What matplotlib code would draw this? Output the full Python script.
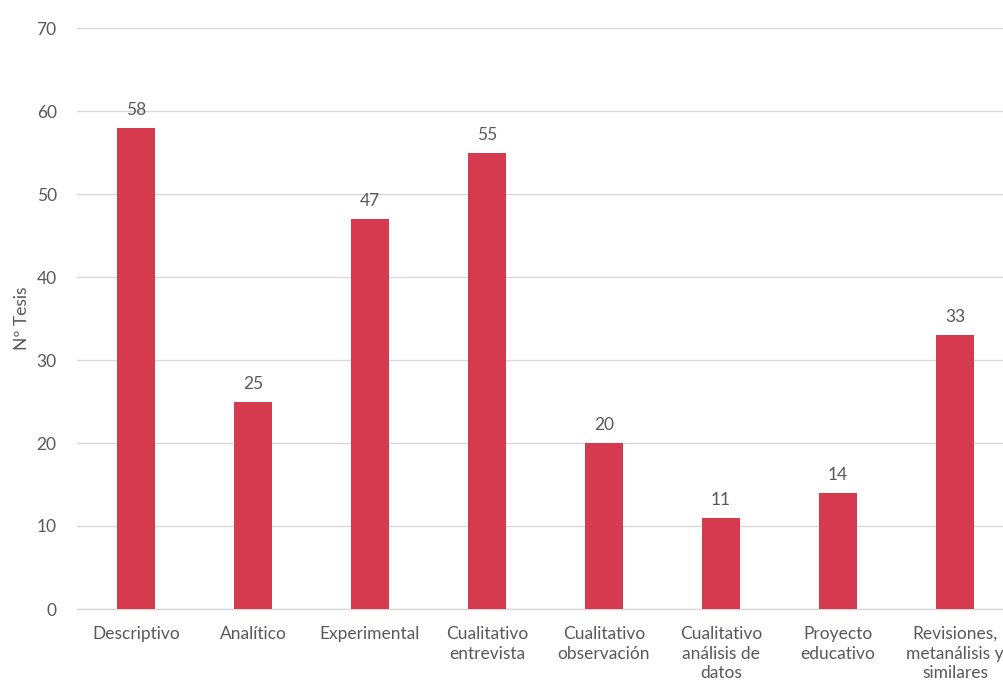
import matplotlib
matplotlib.use("Agg")
import matplotlib.pyplot as plt

categories = [
    "Descriptivo",
    "Analítico",
    "Experimental",
    "Cualitativo\nentrevista",
    "Cualitativo\nobservación",
    "Cualitativo\nanálisis de\ndatos",
    "Proyecto\neducativo",
    "Revisiones,\nmetanálisis y\nsimilares",
]
values = [58, 25, 47, 55, 20, 11, 14, 33]
y_ticks = [0, 10, 20, 30, 40, 50, 60, 70]

plt.rcParams["font.family"] = ["Lato", "DejaVu Sans"]
text_color = "#595959"
bar_color = "#D63A4E"
grid_color = "#D9D9D9"
fs = 12.5

W, H = 1004, 688
fig = plt.figure(figsize=(W / 100, H / 100), dpi=100)
left, right, bottom, top = 77.5, 1004, 609, 28
ax = fig.add_axes([left / W, 1 - bottom / H, (right - left) / W, (bottom - top) / H])

x = list(range(len(categories)))
ax.bar(x, values, width=0.32, color=bar_color, zorder=3)
for xi, v in zip(x, values):
    ax.annotate(str(v), (xi, v), xytext=(0, 7), textcoords="offset points",
                ha="center", va="bottom", fontsize=fs, color=text_color)

ax.set_ylim(0, 70)
ax.set_xlim(-0.5, (right - left) / 117.0 - 0.5)
ax.set_yticks(y_ticks)
ax.set_xticks(x)
ax.set_xticklabels(categories, fontsize=fs, color=text_color, linespacing=1.3)
ax.tick_params(axis="y", labelsize=fs, labelcolor=text_color, length=0, pad=15)
ax.tick_params(axis="x", length=0, pad=12)
ax.yaxis.grid(True, color=grid_color, linewidth=1, zorder=0)
for s in ["top", "right", "left"]:
    ax.spines[s].set_visible(False)
ax.spines["bottom"].set_color(grid_color)
ax.spines["bottom"].set_linewidth(1)
ax.set_ylabel("Nº Tesis", fontsize=fs, color=text_color, labelpad=5)

fig.savefig("out.png", dpi=100)
